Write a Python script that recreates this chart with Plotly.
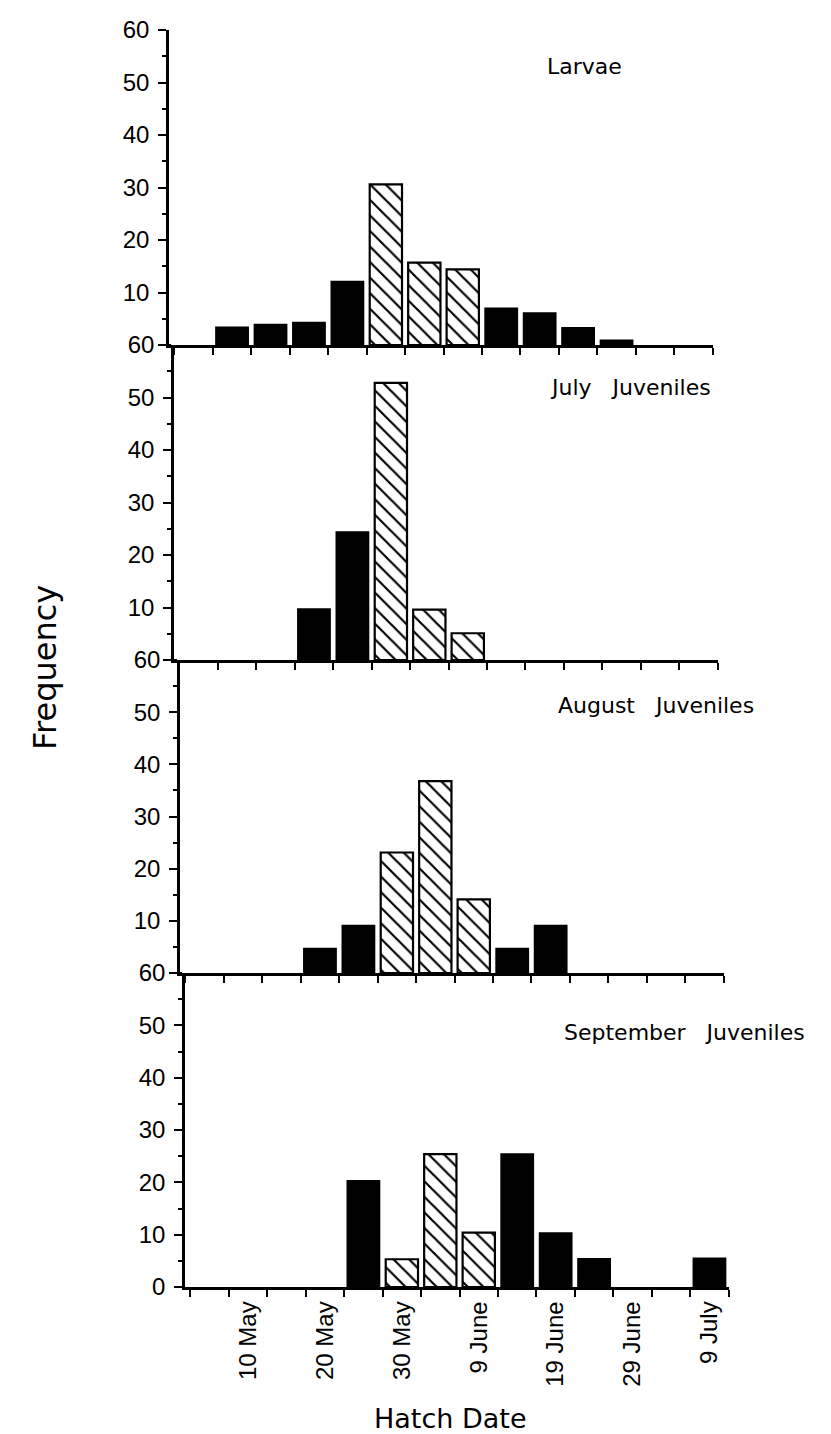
import plotly.graph_objects as go

# ---- data ----
# bin centres in days from 1 May (1 May = 1, 1 June = 32, 1 July = 62); bins are 5 days wide
bin_days = [5, 10, 15, 20, 25, 30, 35, 40, 45, 50, 55, 60, 65, 70]
bin_edges = [2.5, 7.5, 12.5, 17.5, 22.5, 27.5, 32.5, 37.5, 42.5, 47.5, 52.5, 57.5, 62.5, 67.5, 72.5]
date_tick_days = [10, 20, 30, 40, 50, 60, 70]
date_tick_labels = ["10 May", "20 May", "30 May", "9 June", "19 June", "29 June", "9 July"]
freq_ticks = [0, 10, 20, 30, 40, 50, 60]
freq_minor = [5, 15, 25, 35, 45, 55]

panel_titles = ["Larvae", "July\u00a0\u00a0\u00a0Juveniles", "August\u00a0\u00a0\u00a0Juveniles",
                "September\u00a0\u00a0\u00a0Juveniles"]

larvae_solid = [None, 3.4, 3.9, 4.3, 12.1, None, None, None, 7.0, 6.1, 3.3, 0.9, None, None]
larvae_hatched = [None, None, None, None, None, 30.6, 15.7, 14.4, None, None, None, None, None, None]

july_solid = [None, None, None, 9.7, 24.4, None, None, None, None, None, None, None, None, None]
july_hatched = [None, None, None, None, None, 52.8, 9.6, 5.1, None, None, None, None, None, None]

august_solid = [None, None, None, 4.7, 9.1, None, None, None, 4.7, 9.1, None, None, None, None]
august_hatched = [None, None, None, None, None, 23.1, 36.8, 14.1, None, None, None, None, None, None]

september_solid = [None, None, None, None, 20.3, None, None, None, 25.4, 10.3, 5.4, None, None, 5.5]
september_hatched = [None, None, None, None, None, 5.3, 25.4, 10.4, None, None, None, None, None, None]

solid_series = [larvae_solid, july_solid, august_solid, september_solid]
hatched_series = [larvae_hatched, july_hatched, august_hatched, september_hatched]

# ---- layout geometry (pixels) ----
W, H = 831, 1434
panel_px = [(30, 345), (345, 660), (660, 973), (973, 1287)]
left_px = [169, 174, 180, 185]
px_per_day = 7.69
x_range = [1.8, 72.6]
plot_w = (x_range[1] - x_range[0]) * px_per_day

tick_font = dict(family="Liberation Sans, Arial, sans-serif", size=24, color="black")
label_font = "DejaVu Sans, Verdana, sans-serif"

fig = go.Figure()
layout = dict(
    width=W, height=H,
    margin=dict(l=0, r=0, t=0, b=0),
    paper_bgcolor="white", plot_bgcolor="white",
    showlegend=False, template="none",
    barmode="overlay",
)

for i in range(4):
    n = i + 1
    xa = "x" if n == 1 else f"x{n}"
    ya = "y" if n == 1 else f"y{n}"
    fig.add_trace(go.Bar(
        x=bin_days, y=solid_series[i], width=4.2, xaxis=xa, yaxis=ya,
        marker=dict(color="black", line=dict(color="black", width=1.5)),
        hoverinfo="skip"))
    fig.add_trace(go.Bar(
        x=bin_days, y=hatched_series[i], width=4.2, xaxis=xa, yaxis=ya,
        marker=dict(color="white", line=dict(color="black", width=2.2),
                    pattern=dict(shape="\\", fgcolor="black", bgcolor="white", fgopacity=1,
                                 size=11, solidity=0.2, fillmode="overlay")),
        hoverinfo="skip"))

    top, bot = panel_px[i]
    x0 = left_px[i]
    xkey = "xaxis" if n == 1 else f"xaxis{n}"
    ykey = "yaxis" if n == 1 else f"yaxis{n}"
    xax = dict(
        domain=[x0 / W, (x0 + plot_w) / W], range=x_range, anchor=ya,
        showline=True, linecolor="black", linewidth=2.5, showgrid=False, zeroline=False,
        ticks="", automargin=False,
        minor=dict(tickmode="array", tickvals=bin_edges, ticks="outside", ticklen=7,
                   tickwidth=1.8, tickcolor="black", showgrid=False),
        tickfont=tick_font,
    )
    if n == 4:
        xax.update(tickmode="array", tickvals=date_tick_days, ticktext=date_tick_labels,
                   tickangle=-90, showticklabels=True, ticklabelstandoff=2)
    else:
        xax.update(showticklabels=False)
    layout[xkey] = xax

    ticktext = [str(v) for v in freq_ticks]
    if n < 4:
        ticktext[0] = ""
    layout[ykey] = dict(
        domain=[1 - bot / H, 1 - top / H], range=[0, 60], anchor=xa,
        tickmode="array", tickvals=freq_ticks, ticktext=ticktext,
        ticks="outside", ticklen=8, tickwidth=2, tickcolor="black",
        minor=dict(tickmode="array", tickvals=freq_minor, ticks="outside", ticklen=4,
                   tickwidth=1.8, tickcolor="black", showgrid=False),
        showline=True, linecolor="black", linewidth=2.5, showgrid=False, zeroline=False,
        tickfont=tick_font, ticklabelstandoff=4, automargin=False,
    )

title_pos = [(545, 67), (548, 388), (556, 705), (562, 1032)]
annotations = []
for (tx, ty), t in zip(title_pos, panel_titles):
    annotations.append(dict(text=t, x=tx / W, y=1 - ty / H, xref="paper", yref="paper",
                            xanchor="left", yanchor="middle", showarrow=False,
                            font=dict(family=label_font, size=22, color="black")))
annotations.append(dict(text="Frequency", x=45 / W, y=1 - 668 / H, xref="paper", yref="paper",
                        xanchor="center", yanchor="middle", showarrow=False, textangle=-90,
                        font=dict(family=label_font, size=32, color="black")))
annotations.append(dict(text="Hatch Date", x=450 / W, y=1 - 1418 / H, xref="paper", yref="paper",
                        xanchor="center", yanchor="middle", showarrow=False,
                        font=dict(family=label_font, size=27, color="black")))
layout["annotations"] = annotations

fig.update_layout(**layout)
fig.write_html("out.html")
